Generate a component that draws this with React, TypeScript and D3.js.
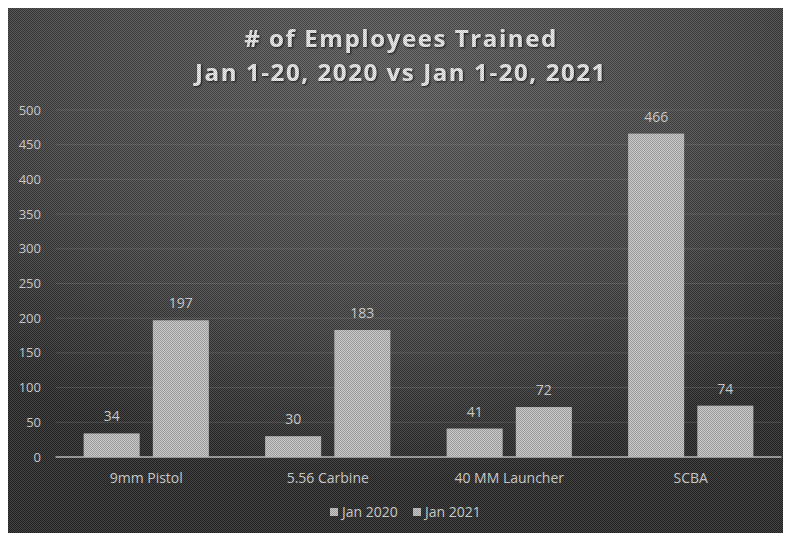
import React from "react";
import * as d3 from "d3";

const categories = ["9mm Pistol", "5.56 Carbine", "40 MM Launcher", "SCBA"];
const seriesNames = ["Jan 2020", "Jan 2021"];
const jan2020 = [34, 30, 41, 466];
const jan2021 = [197, 183, 72, 74];
const yTicks = [0, 50, 100, 150, 200, 250, 300, 350, 400, 450, 500];
const titleLines = ["# of Employees Trained", "Jan 1-20, 2020 vs Jan 1-20, 2021"];

const W = 783;
const H = 525;
const OFF = 8; // page coordinate offset (body margin)

export default function App() {
  const left = 55.5;
  const right = 781.5;
  const yTop = 110;
  const yBase = 457;

  const x0 = d3.scaleBand<string>().domain(categories).range([left, right]).paddingInner(0.31).paddingOuter(0.155);
  const x1 = d3.scaleBand<string>().domain(seriesNames).range([0, x0.bandwidth()]).paddingInner(0.19);
  const y = d3.scaleLinear().domain([0, 500]).range([yBase, yTop]);

  const series = [jan2020, jan2021];
  const barFill = "#c4c4c4";
  const textCol = "#dcdcdc";
  const font = "'Open Sans', sans-serif";

  return (
    <svg width={W} height={H} style={{ display: "block" }}>
      <defs>
        <radialGradient id="bg" cx="0.5" cy="0.15" r="0.75" gradientUnits="objectBoundingBox">
          <stop offset="0" stopColor="#606060" />
          <stop offset="0.6" stopColor="#474747" />
          <stop offset="1" stopColor="#2a2a2a" />
        </radialGradient>
        <pattern id="chk" width="2" height="2" patternUnits="userSpaceOnUse">
          <rect x="0" y="0" width="1" height="1" fill="#000" fillOpacity="0.22" />
          <rect x="1" y="1" width="1" height="1" fill="#000" fillOpacity="0.22" />
          <rect x="1" y="0" width="1" height="1" fill="#fff" fillOpacity="0.12" />
          <rect x="0" y="1" width="1" height="1" fill="#fff" fillOpacity="0.12" />
        </pattern>
        <filter id="shadow" x="-10%" y="-30%" width="120%" height="160%">
          <feDropShadow dx="1" dy="1" stdDeviation="1.2" floodColor="#000" floodOpacity="0.85" />
        </filter>
      </defs>
      <g transform={`translate(${-OFF},${-OFF})`}>
        <rect x={OFF} y={OFF} width={W} height={H} fill="url(#bg)" />
        {yTicks.map((t) => (
          <g key={t}>
            {t > 0 && (
              <line x1={left} x2={right} y1={y(t)} y2={y(t)} stroke="#8a8a8a" strokeOpacity={0.35} strokeWidth={1} />
            )}
            <text x={41} y={y(t)} dy="0.35em" textAnchor="end" fill={textCol} fontSize={13} fontFamily={font}>
              {t}
            </text>
          </g>
        ))}
        {categories.map((c, i) => (
          <g key={c}>
            {series.map((s, j) => {
              const bx = (x0(c) as number) + (x1(seriesNames[j]) as number);
              const bw = x1.bandwidth();
              return (
                <g key={j}>
                  <rect x={bx} y={y(s[i])} width={bw} height={yBase - y(s[i])} fill={barFill} />
                  <text x={bx + bw / 2} y={y(s[i]) - 12} textAnchor="middle" fill={textCol} fontSize={14} fontFamily={font}>
                    {s[i]}
                  </text>
                </g>
              );
            })}
            <text x={(x0(c) as number) + x0.bandwidth() / 2} y={478} dy="0.35em" textAnchor="middle" fill={textCol} fontSize={14} fontFamily={font}>
              {c}
            </text>
          </g>
        ))}
        <line x1={left} x2={right} y1={yBase} y2={yBase} stroke="#c8c8c8" strokeWidth={1.5} />
        {seriesNames.map((n, j) => (
          <g key={n} transform={`translate(${330 + j * 83},512)`}>
            <rect x={0} y={-4} width={8} height={8} fill={barFill} />
            <text x={12} y={0} dy="0.35em" fill={textCol} fontSize={14} fontFamily={font}>
              {n}
            </text>
          </g>
        ))}
        {titleLines.map((t, i) => (
          <text key={i} x={401} y={47 + i * 34} textAnchor="middle" fill="#f4f4f4" fontSize={24} fontWeight="bold" fontFamily={font} letterSpacing={1.6} filter="url(#shadow)">
            {t}
          </text>
        ))}
        <rect x={OFF} y={OFF} width={W} height={H} fill="url(#chk)" />
      </g>
    </svg>
  );
}
